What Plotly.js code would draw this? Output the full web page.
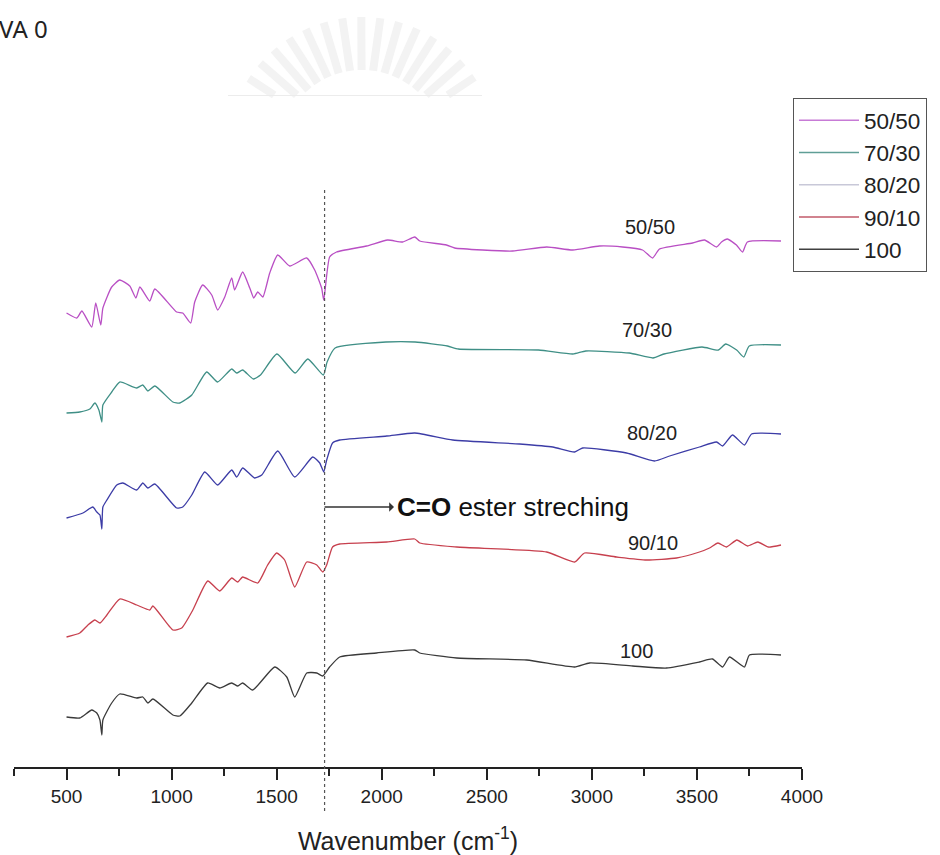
<!DOCTYPE html>
<html>
<head>
<meta charset="utf-8">
<script src="https://cdn.plot.ly/plotly-3.0.1.min.js"></script>
<style>html,body{margin:0;padding:0;background:#fff;}#chart{width:940px;height:855px;}</style>
</head>
<body>
<div id="chart"></div>
<script>
// ---- Data ----
const seriesNames = ["50/50", "70/30", "80/20", "90/10", "100"];

const wn_50_50 = [500,549,573,620,639,663,673,715,753,801,830,849,896,920,1024,1053,1091,1110,1148,1191,1219,1253,1286,1300,1338,1372,1391,1410,1434,1467,1505,1562,1643,1681,1714,1724,1752,1785,1928,2028,2100,2157,2181,2308,2347,2480,2623,2785,2909,3036,3146,3241,3289,3322,3479,3536,3593,3617,3645,3688,3717,3740,3900];
const t_50_50  = [4.54,4.49,4.56,4.40,4.64,4.42,4.59,4.80,4.87,4.81,4.69,4.80,4.66,4.78,4.55,4.54,4.44,4.65,4.82,4.72,4.57,4.70,4.89,4.77,4.95,4.79,4.69,4.75,4.70,4.94,5.12,5.01,5.09,4.97,4.79,4.67,5.10,5.15,5.21,5.27,5.25,5.30,5.26,5.22,5.19,5.17,5.16,5.20,5.17,5.21,5.20,5.17,5.09,5.18,5.24,5.27,5.20,5.25,5.28,5.22,5.15,5.25,5.26];

const wn_70_30 = [500,563,611,635,654,668,673,715,753,834,863,887,920,1006,1039,1096,1167,1219,1286,1310,1338,1389,1423,1501,1588,1648,1722,1740,1778,2020,2159,2313,2365,2746,2910,2971,3178,3291,3343,3524,3602,3637,3689,3723,3749,3900];
const t_70_30  = [3.54,3.55,3.58,3.64,3.57,3.45,3.62,3.75,3.85,3.79,3.82,3.76,3.81,3.65,3.64,3.72,3.95,3.85,3.98,3.94,3.97,3.88,3.92,4.13,3.94,4.08,3.92,4.05,4.19,4.25,4.25,4.21,4.18,4.17,4.13,4.16,4.14,4.09,4.13,4.20,4.17,4.23,4.17,4.10,4.21,4.22];

const wn_80_20 = [500,578,625,644,659,668,673,692,739,768,834,863,887,920,1024,1053,1096,1158,1219,1286,1310,1338,1395,1429,1505,1586,1672,1705,1724,1738,1766,1800,2024,2157,2338,2656,2814,2918,2956,3165,3298,3370,3512,3593,3622,3669,3726,3760,3900];
const t_80_20  = [2.49,2.54,2.60,2.55,2.52,2.38,2.60,2.67,2.82,2.84,2.77,2.84,2.79,2.83,2.59,2.60,2.72,2.95,2.82,2.97,2.90,2.99,2.89,2.92,3.16,2.90,3.10,3.04,2.95,3.07,3.24,3.27,3.31,3.34,3.27,3.23,3.20,3.15,3.19,3.14,3.06,3.11,3.20,3.25,3.21,3.32,3.22,3.33,3.33];

const wn_90_10 = [500,563,602,635,659,692,753,834,896,911,1006,1048,1101,1172,1229,1286,1315,1338,1410,1457,1500,1538,1586,1643,1691,1719,1738,1766,1800,2024,2157,2181,2357,2785,2918,2965,3117,3260,3403,3512,3560,3600,3641,3690,3740,3790,3840,3900];
const t_90_10  = [1.30,1.34,1.42,1.47,1.44,1.52,1.68,1.62,1.57,1.61,1.37,1.39,1.57,1.86,1.76,1.89,1.85,1.90,1.84,2.02,2.14,2.07,1.80,2.05,2.02,1.95,2.02,2.20,2.23,2.25,2.28,2.24,2.20,2.15,2.05,2.14,2.10,2.07,2.09,2.15,2.19,2.24,2.20,2.27,2.21,2.25,2.20,2.22];

const wn_100 = [500,563,620,644,659,668,673,715,753,834,863,887,911,1006,1039,1096,1172,1229,1286,1315,1338,1386,1491,1548,1586,1643,1691,1719,1752,1800,1975,2157,2181,2357,2690,2918,2989,3194,3355,3512,3574,3622,3655,3726,3750,3900];
const t_100  = [0.50,0.49,0.57,0.54,0.47,0.32,0.47,0.64,0.73,0.69,0.70,0.64,0.68,0.52,0.51,0.64,0.84,0.79,0.84,0.81,0.84,0.77,1.00,0.90,0.70,0.94,0.94,0.91,1.00,1.10,1.14,1.17,1.14,1.09,1.07,1.00,1.04,1.01,0.99,1.05,1.08,1.00,1.10,1.00,1.12,1.12];

const labelWn = [3275, 3260, 3284, 3289, 3212];
const labelT  = [5.40, 4.37, 3.34, 2.24, 1.16];

const coWavenumber = 1728;       // C=O ester stretching marker
const coText = "<b>C=O</b> ester streching";
const xTickVals = [500, 1000, 1500, 2000, 2500, 3000, 3500, 4000];

// ---- Styling ----
const lineColors   = ["#b94fc4", "#3f8f86", "#3c3ca6", "#c7404e", "#3a3a3a"];
const legendColors = ["#c77bd6", "#5f9e96", "#c8c8d8", "#c25a6a", "#404040"];
const FONT = 'Arial, "Liberation Sans", sans-serif';

const W = 940, H = 855;
const M = {l: 14, r: 138, t: 100, b: 88};
const pw = W - M.l - M.r, ph = H - M.t - M.b;
const px2paperX = px => (px - M.l) / pw;
const py2paperY = py => (H - M.b - py) / ph;

const wnArr = [wn_50_50, wn_70_30, wn_80_20, wn_90_10, wn_100];
const tArr  = [t_50_50, t_70_30, t_80_20, t_90_10, t_100];

const traces = [];
seriesNames.forEach((name, i) => {
  traces.push({
    type: 'scatter', mode: 'lines', name: name,
    x: wnArr[i], y: tArr[i], showlegend: false,
    line: {color: lineColors[i], width: 1.3, shape: 'spline', smoothing: 0.5},
    hoverinfo: 'skip'
  });
});
seriesNames.forEach((name, i) => {
  traces.push({
    type: 'scatter', mode: 'lines', name: name,
    x: [null], y: [null], showlegend: true,
    line: {color: legendColors[i], width: 1.5}
  });
});

const annotations = seriesNames.map((name, i) => ({
  x: labelWn[i], y: labelT[i], xref: 'x', yref: 'y',
  text: name, showarrow: false,
  font: {family: FONT, size: 20, color: '#222'}
}));
annotations.push({
  x: coWavenumber, y: 2.60, xref: 'x', yref: 'y',
  ax: 2627, ay: 2.60, axref: 'x', ayref: 'y',
  text: coText, showarrow: true, arrowside: 'start',
  arrowhead: 2, arrowsize: 1.3, arrowwidth: 1.6, arrowcolor: '#333',
  startstandoff: 2,
  font: {family: FONT, size: 26, color: '#111'}
});
annotations.push({
  x: px2paperX(-3), y: py2paperY(28), xref: 'paper', yref: 'paper',
  xanchor: 'left', yanchor: 'middle', showarrow: false,
  text: 'VA 0', font: {family: '"Noto Sans", sans-serif', size: 24, color: '#222'}
});

// faint watermark rays at the top
const shapes = [];
const cx = 362, cy = 152, rOut = 135, rIn = 82, cutY = 95;
for (let k = 0; k < 15; k++) {
  const th = (147 - k * 8.1) * Math.PI / 180;
  const s = Math.sin(th), c = Math.cos(th);
  let r0 = rIn;
  if (cy - r0 * s > cutY) r0 = (cy - cutY) / s;
  if (r0 >= rOut) continue;
  shapes.push({
    type: 'line', xref: 'paper', yref: 'paper', layer: 'below',
    x0: px2paperX(cx + r0 * c), y0: py2paperY(cy - r0 * s),
    x1: px2paperX(cx + rOut * c), y1: py2paperY(cy - rOut * s),
    line: {color: '#f3f3f3', width: 8}
  });
}
shapes.push({
  type: 'line', xref: 'paper', yref: 'paper', layer: 'below',
  x0: px2paperX(228), x1: px2paperX(482), y0: py2paperY(95.5), y1: py2paperY(95.5),
  line: {color: '#ececec', width: 1}
});
// dotted marker line
shapes.push({
  type: 'line', xref: 'x', yref: 'paper',
  x0: coWavenumber, x1: coWavenumber,
  y0: py2paperY(811), y1: py2paperY(189),
  line: {color: '#555', width: 1.2, dash: 'dot'}
});

const layout = {
  width: W, height: H,
  margin: {l: M.l, r: M.r, t: M.t, b: M.b, autoexpand: false},
  paper_bgcolor: '#fff', plot_bgcolor: '#fff',
  font: {family: FONT, color: '#222'},
  showlegend: true,
  legend: {
    x: px2paperX(793), y: py2paperY(98), xanchor: 'left', yanchor: 'top',
    bgcolor: '#fff', bordercolor: '#555', borderwidth: 1,
    font: {family: FONT, size: 22.5, color: '#222'},
    itemwidth: 60, tracegroupgap: 0
  },
  xaxis: {
    range: [250, 4000], tickvals: xTickVals, ticktext: xTickVals.map(String),
    showgrid: false, zeroline: false,
    showline: true, linecolor: '#222', linewidth: 2,
    ticks: 'outside', ticklen: 11, tickwidth: 2, tickcolor: '#222',
    minor: {dtick: 250, tick0: 250, ticks: 'outside', ticklen: 7, tickwidth: 2, tickcolor: '#222', showgrid: false},
    tickfont: {family: FONT, size: 19, color: '#222'},
    title: {text: 'Wavenumber (cm<sup>-1</sup>)', font: {family: FONT, size: 25, color: '#222'}, standoff: 28}
  },
  yaxis: {range: [0, 6.67], visible: false, fixedrange: true},
  annotations: annotations,
  shapes: shapes
};

Plotly.newPlot('chart', traces, layout, {staticPlot: true, displayModeBar: false});
</script>
</body>
</html>
